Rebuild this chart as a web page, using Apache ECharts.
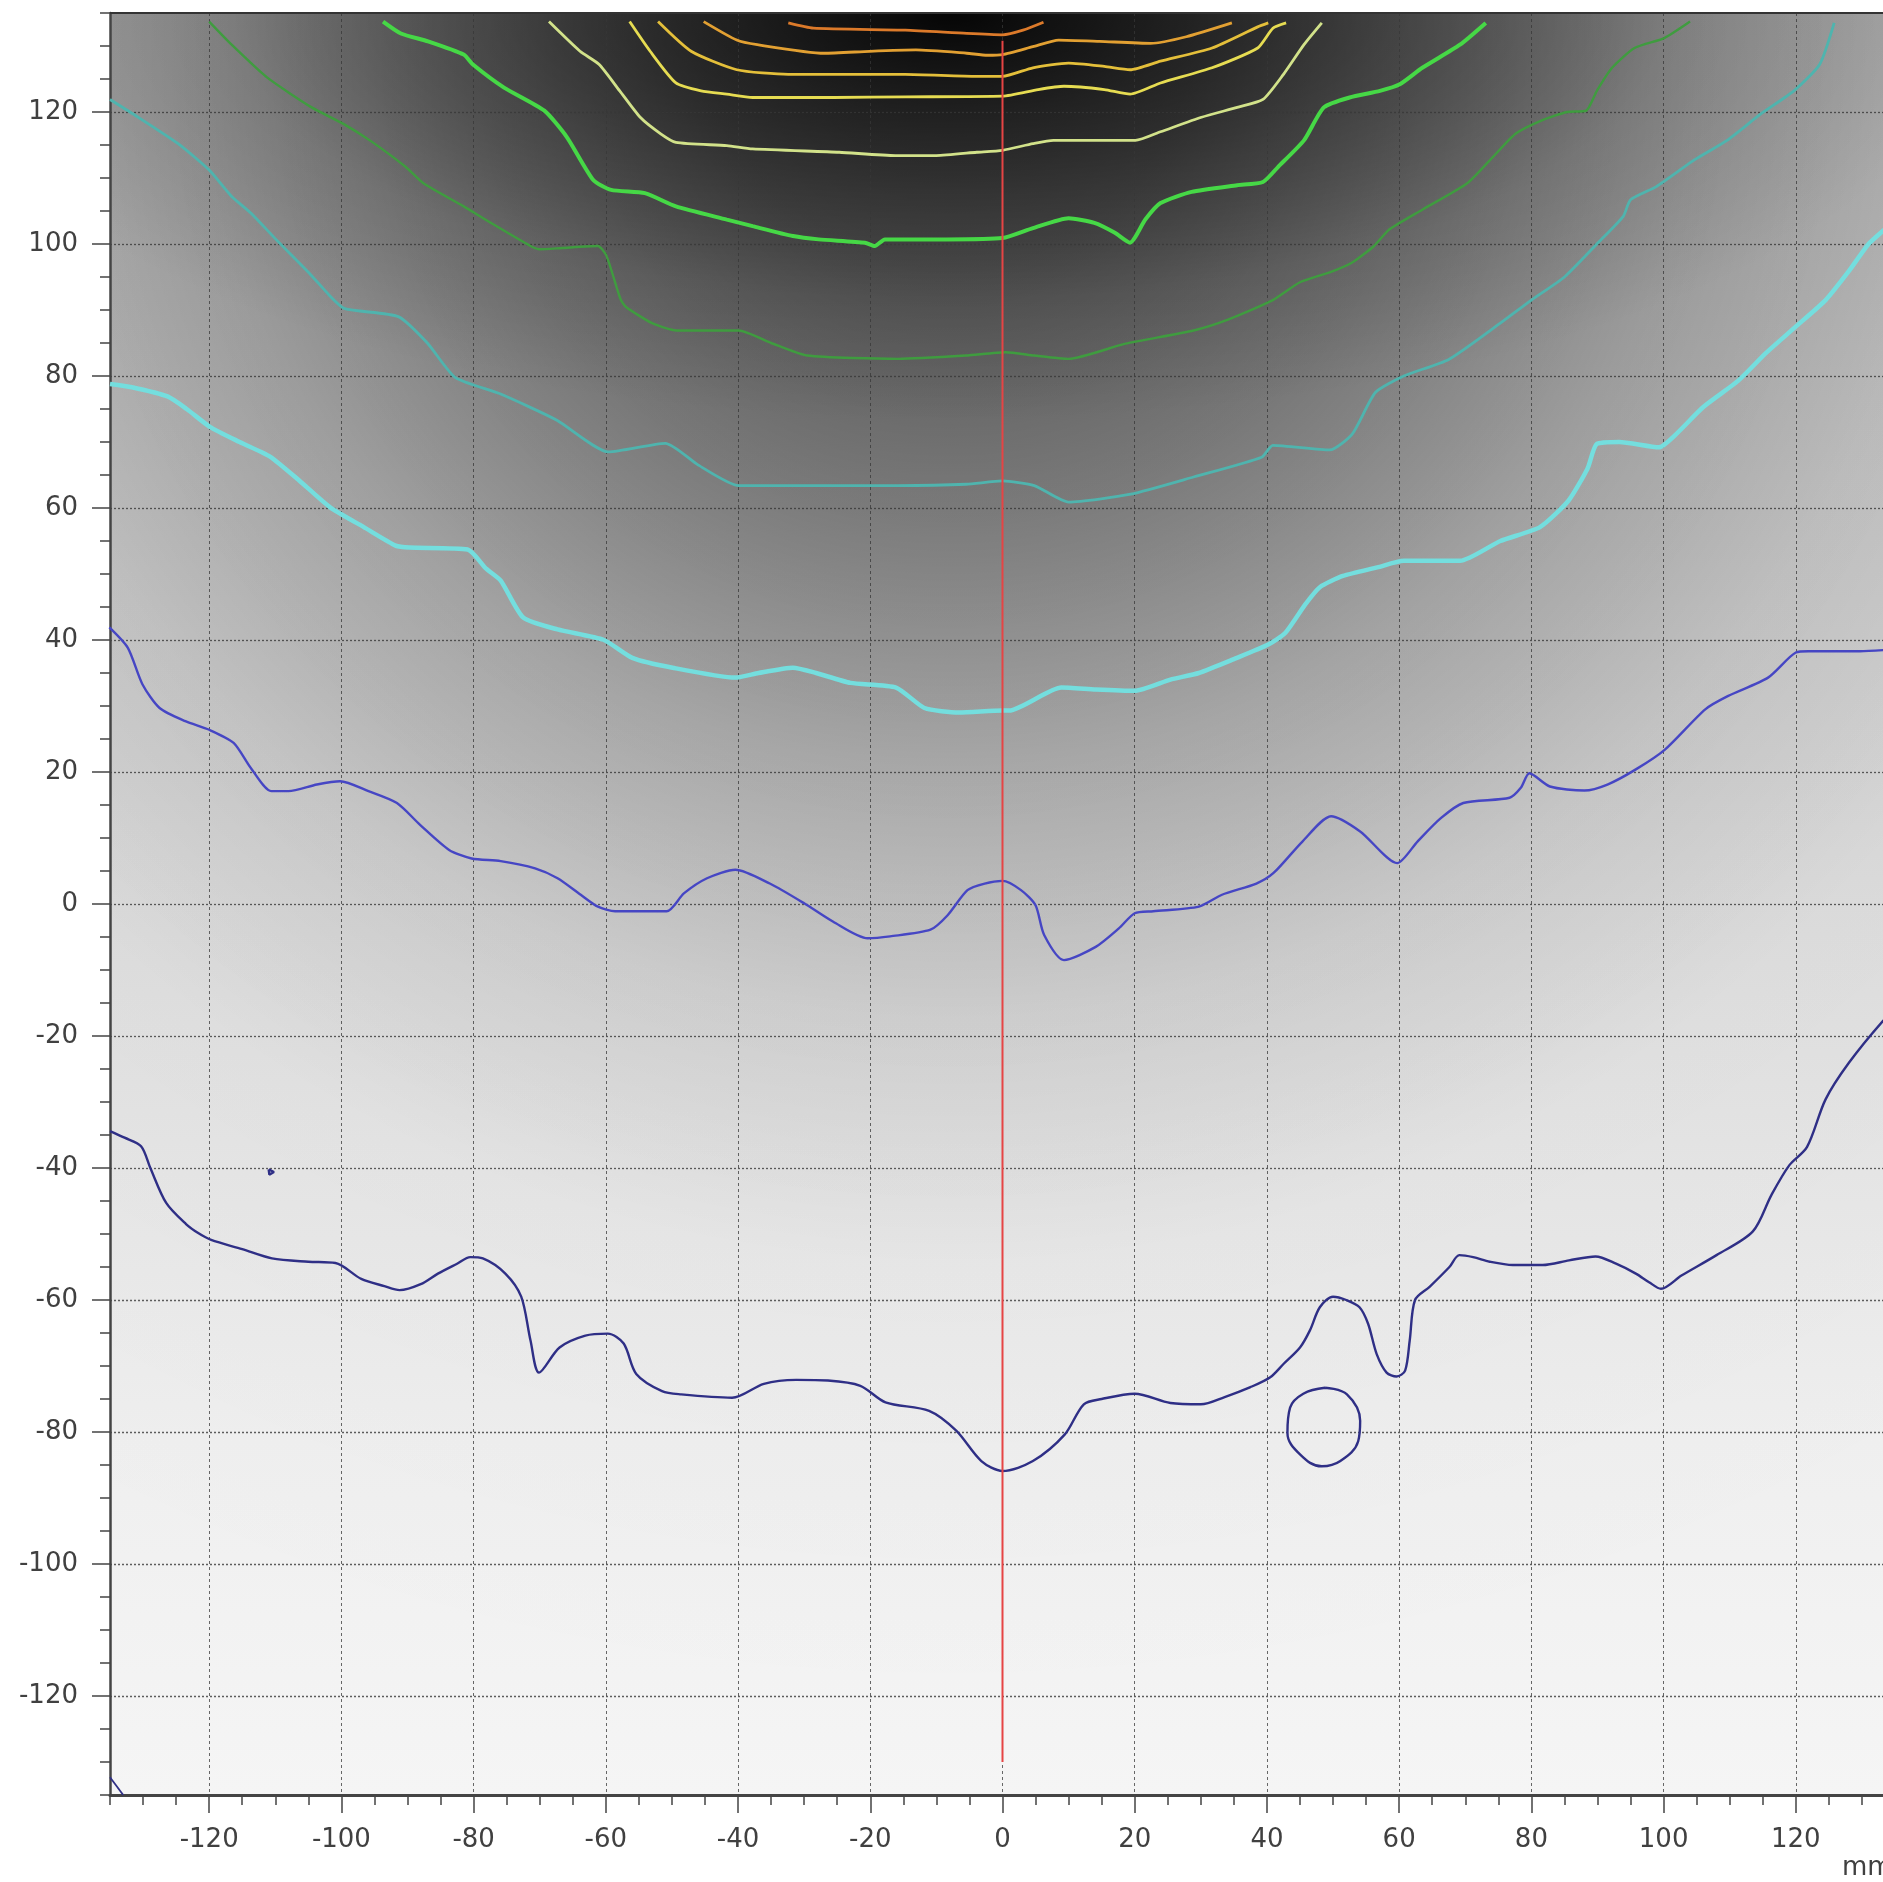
<!DOCTYPE html>
<html>
<head>
<meta charset="utf-8">
<script src="https://cdn.jsdelivr.net/npm/echarts@6/dist/echarts.min.js"></script>
<style>
html,body{margin:0;padding:0;background:#ffffff;}
#chart{width:1883px;height:1882px;}
</style>
</head>
<body>
<div id="chart"></div>
<script>
// ---- axis / tick data ----
const axisMin = -135;
const axisMax = 135;
const majorTicks = [-120, -100, -80, -60, -40, -20, 0, 20, 40, 60, 80, 100, 120];
const unitLabel = 'mm';

// ---- contour lines: [x mm, y mm] ----
const navyContour = [[-135,-34.4],[-132.8,-35.4],[-130.3,-36.7],[-128.9,-40],[-126.5,-45.3],[-123.5,-48.5],[-121.6,-49.9],[-119.7,-50.9],[-115,-52.3],[-110.5,-53.7],[-105,-54.2],[-100.9,-54.4],[-97,-56.8],[-93.5,-57.9],[-91.2,-58.5],[-88,-57.6],[-85.4,-56],[-82.5,-54.5],[-80.5,-53.5],[-78.6,-53.7],[-75.2,-56],[-72.8,-59.5],[-71.4,-66.1],[-70.1,-71],[-67,-67.2],[-63.1,-65.4],[-59.7,-65.1],[-57.3,-66.6],[-55.4,-71.2],[-51.5,-73.8],[-48.6,-74.3],[-40.9,-74.8],[-36.1,-72.7],[-31.2,-72.1],[-26.4,-72.2],[-21.5,-73],[-17.7,-75.5],[-11.1,-76.8],[-7,-79.8],[-3.2,-84.4],[0,-85.9],[4.6,-84.4],[9.4,-80.4],[12.3,-75.8],[15,-75],[20,-74.2],[25.4,-75.6],[30,-75.8],[33.6,-74.7],[37.5,-73.2],[40.5,-71.7],[42.5,-69.7],[45,-67.2],[46.5,-64.6],[48,-61.1],[50,-59.5],[52,-60],[54,-61.1],[55.3,-63.6],[56.6,-68.2],[58.1,-71],[59.6,-71.6],[60.9,-70.7],[61.6,-66.1],[62.4,-60],[64.6,-58],[67.6,-55],[69.1,-53.2],[71.2,-53.5],[73.7,-54.2],[77.2,-54.7],[81.7,-54.7],[85.7,-54],[89.7,-53.4],[92.8,-54.5],[95.8,-56],[97.8,-57.3],[99.6,-58.3],[102.7,-56.3],[108,-53.2],[113.5,-49.6],[116.3,-44.1],[119,-39.6],[121.7,-36.8],[124.5,-29.6],[128,-24.1],[133.2,-17.7],[136,-15]];
const navyRing = [[48.8,-73.3],[52.1,-74.3],[54.1,-78.3],[53.8,-81.4],[51.1,-84.4],[48.3,-85.2],[45,-83.4],[43.1,-80.1],[43.5,-76.3],[45.5,-74.2],[48.8,-73.3]];
const navyDot = [[-111,-40.2],[-110.2,-40.6],[-110.9,-41],[-111,-40.2]];
const navyCorner = [[-135,-132.3],[-133,-135]];
const blueContour = [[-135.1,41.9],[-132.3,38.8],[-130.1,33.3],[-127.5,29.7],[-123.6,27.7],[-120,26.4],[-116.3,24.4],[-113.7,20.6],[-110.6,17.1],[-108,17.1],[-103.7,18.1],[-100.2,18.6],[-95.9,17.1],[-91.6,15.3],[-88.1,12],[-83.7,8.2],[-80.3,6.9],[-75.9,6.5],[-70.7,5.4],[-67.3,3.9],[-63.8,1.4],[-61.2,-0.4],[-58.6,-1.1],[-50.8,-1.1],[-48.2,1.6],[-44.7,3.9],[-40.4,5.2],[-35.2,3.1],[-30,0.1],[-25.6,-2.7],[-20.4,-5.2],[-17,-4.9],[-10.9,-3.9],[-8.3,-1.7],[-5.3,2.1],[-2.7,3.1],[0,3.5],[2.8,2.1],[5,-0.2],[6.3,-4.7],[9.3,-8.5],[14.1,-6.5],[17.6,-3.7],[20,-1.4],[22.8,-1.1],[29.7,-0.4],[33.2,1.4],[38.4,3.1],[41,4.7],[45.4,9.5],[49.7,13.3],[54.1,11],[59.7,6.2],[62.8,9.5],[66.3,13],[69.7,15.3],[76.7,16.1],[78.4,17.6],[79.7,19.8],[82.8,17.8],[88,17.2],[91.5,18.1],[95.8,20.4],[100.2,23.4],[106.3,29.5],[109.7,31.5],[115.8,34.3],[120,38.1],[121.9,38.3],[129.7,38.3],[135,38.6]];
const cyanContour = [[-135,78.8],[-131.7,78.3],[-126.3,76.9],[-123.4,75],[-119.9,72.3],[-115.4,70],[-110.8,67.8],[-106.3,64.1],[-101.7,60.1],[-96.6,57.1],[-91.8,54.3],[-89.7,54],[-80.9,53.7],[-78.1,50.8],[-75.9,49],[-72.5,43.4],[-67.3,41.6],[-60.3,40],[-56,37.3],[-49.9,35.8],[-40.4,34.3],[-36.9,35],[-31.7,35.8],[-28.2,35],[-23,33.5],[-16.1,32.8],[-11.8,29.7],[-6.6,29],[0,29.3],[1,29.3],[8.9,32.8],[14.1,32.5],[20,32.3],[25.4,34],[29.7,35],[35,37.1],[40.2,39.3],[42.8,41.1],[45.8,45.4],[48,48],[51.5,49.7],[56.7,51],[60.7,52],[69.2,52],[75.3,55],[81.3,57.1],[85.6,61.1],[88.5,66],[89.9,69.7],[93.3,70],[99.3,69.2],[101.9,71.2],[106,75.3],[111.3,79.3],[115.5,83.5],[119.9,87.4],[124.5,91.5],[128.1,96],[131,100],[133.3,102.1],[136,104.5]];
const tealContour = [[-135,121.9],[-131.5,119.7],[-124.7,115.2],[-120,111.2],[-116.6,107.2],[-113.7,104.7],[-109.9,100.7],[-104.5,95.2],[-101.8,92.2],[-99.5,90.2],[-91.4,89],[-87,85],[-82.8,79.8],[-76,77.3],[-67.4,73.3],[-59.6,68.5],[-51,69.8],[-46,66.5],[-39.9,63.4],[-29.6,63.4],[-15.8,63.4],[-5.5,63.6],[0,64.1],[4.8,63.4],[10,60.9],[19.4,62.1],[28.9,64.7],[39.2,67.7],[40.9,69.5],[49.5,68.8],[52.9,71.2],[56.4,77.5],[60.7,80],[67.5,82.5],[75.3,88],[80,91.5],[85,95],[89.9,100],[93.9,104.2],[95,106.7],[98.9,108.7],[104.6,112.7],[109.6,115.7],[114.7,119.7],[119.7,123.2],[123.6,127.2],[125.8,133.5]];
const darkGreenContour = [[-120,133.7],[-116.6,130.2],[-111.2,125.2],[-104.5,120.7],[-99.7,118.2],[-95.7,115.7],[-90.3,111.7],[-87.6,109.2],[-81.5,105.7],[-77.4,103.2],[-71.4,99.7],[-70,99.2],[-66.6,99.4],[-61.2,99.7],[-59.9,98.2],[-57.8,91.7],[-57,90.5],[-53,88],[-49.3,86.9],[-39.9,86.9],[-35,85],[-29.6,83.1],[-15.8,82.6],[-5.5,83.1],[0.5,83.6],[4.8,83.1],[10,82.6],[18.6,84.9],[28.9,86.9],[34,88.5],[40.9,91.5],[45,94.2],[49.5,95.7],[52.9,97.2],[56.2,99.7],[58.5,102.2],[63.5,105.2],[70.3,109.2],[74.2,113.2],[77.6,116.7],[81.5,118.7],[85.4,120],[88.3,120.2],[89.9,123.2],[92.2,126.7],[95.6,129.7],[100.1,131.2],[104,133.7]];
const greenContour = [[-93.7,133.7],[-91,131.9],[-86.9,130.7],[-81.5,128.7],[-80.1,127.2],[-75.4,123.7],[-69.3,120.2],[-65.9,116.2],[-61.9,109.7],[-59.2,108.2],[-54.1,107.7],[-49.4,105.7],[-41.7,103.7],[-37.8,102.7],[-31.7,101.2],[-27.8,100.7],[-20.8,100.2],[-19.3,99.7],[-17.8,100.7],[-8.5,100.7],[0,100.9],[4.6,102.4],[10,103.9],[13.9,103.2],[17,101.7],[19.3,100.2],[21.6,103.7],[23.9,106.2],[28.6,107.9],[35.5,108.9],[39.4,109.4],[41.7,111.7],[45.6,115.7],[48.6,120.7],[52.5,122.2],[57.1,123.2],[60.1,124.2],[63.5,126.7],[69.2,130.2],[73.1,133.5]];
const paleContour = [[-68.6,133.7],[-63.9,129.2],[-61,127.2],[-57.9,123.2],[-54.8,119.2],[-51.7,116.7],[-49.4,115.4],[-41.7,114.9],[-37.8,114.4],[-24.7,113.9],[-16.2,113.4],[-10,113.4],[-3.9,113.9],[0,114.2],[4.6,115.2],[7.7,115.7],[20.1,115.7],[23.9,117],[30.1,119.2],[35.5,120.7],[39.4,121.9],[42.5,125.7],[45.6,130.2],[48.3,133.5]];
const yellowContour = [[-56.4,133.7],[-53.3,129.2],[-49.4,124.4],[-45.6,123.2],[-41.7,122.7],[-37.8,122.2],[-25.5,122.2],[-14.7,122.3],[0,122.4],[5.4,123.4],[9.3,123.9],[15.4,123.4],[19.3,122.7],[23.9,124.4],[31.7,126.7],[38.6,129.7],[40.9,132.7],[42.9,133.5]];
const goldContour = [[-52.1,133.7],[-47.1,129.2],[-40.2,126.4],[-32.4,125.7],[-14.7,125.7],[-3.9,125.4],[0,125.4],[4.6,126.7],[10,127.4],[15.4,126.9],[19.3,126.4],[23.9,127.7],[31.7,129.7],[38.6,132.9],[40.2,133.5]];
const orangeContour = [[-45.2,133.7],[-40.2,130.9],[-37.1,130.2],[-27,128.9],[-20.1,129.2],[-13.1,129.4],[-5.4,128.9],[-2.3,128.6],[0,128.7],[4.6,129.9],[8.5,130.9],[14.7,130.7],[22.4,130.4],[27.8,131.4],[34.7,133.5]];
const darkOrangeContour = [[-32.4,133.5],[-28.6,132.7],[-14.7,132.4],[-5.4,131.9],[0,131.7],[3.1,132.4],[6.2,133.6]];
const redLine = [[0,130.8],[0,-130]];

const chart = echarts.init(document.getElementById('chart'), null, {renderer: 'canvas'});
const G = {left: 110, top: 13, width: 1785, height: 1782};
const FONT = 'DejaVu Sans';
const axisColor = '#444444';
const labelColor = '#404040';

function contour(data, color, width, smooth) {
  return {type: 'line', data: data, showSymbol: false, symbol: 'none', smooth: smooth,
    lineStyle: {color: color, width: width}, z: 4, silent: true, animation: false, clip: true};
}

function valueAxis(extra) {
  return Object.assign({type: 'value', min: axisMin, max: axisMax, interval: 5, z: 2}, extra);
}

chart.setOption({
  animation: false,
  backgroundColor: '#ffffff',
  grid: {left: G.left, top: G.top, width: G.width, height: G.height, containLabel: false, outerBoundsMode: 'none'},
  xAxis: [
    valueAxis({position: 'bottom',
      axisLine: {show: true, onZero: false, lineStyle: {color: axisColor, width: 3}},
      axisTick: {show: true, length: 10, lineStyle: {color: axisColor, width: 1.5}},
      axisLabel: {show: true, customValues: majorTicks, margin: 32, fontSize: 26, color: labelColor, fontFamily: FONT},
      splitLine: {show: false}}),
    valueAxis({position: 'bottom',
      axisLine: {show: false, onZero: false},
      axisTick: {show: true, customValues: majorTicks, length: 18, lineStyle: {color: axisColor, width: 1.5}},
      axisLabel: {show: false},
      splitLine: {show: true, lineStyle: {color: 'rgba(55,55,55,0.75)', width: 1, type: [3, 3]}}})
  ],
  yAxis: [
    valueAxis({position: 'left',
      axisLine: {show: true, onZero: false, lineStyle: {color: axisColor, width: 2.5}},
      axisTick: {show: true, length: 10, lineStyle: {color: axisColor, width: 1.5}},
      axisLabel: {show: true, customValues: majorTicks, margin: 32, fontSize: 26, color: labelColor, fontFamily: FONT},
      splitLine: {show: false}}),
    valueAxis({position: 'left',
      axisLine: {show: false, onZero: false},
      axisTick: {show: true, customValues: majorTicks, length: 18, lineStyle: {color: axisColor, width: 1.5}},
      axisLabel: {show: false},
      splitLine: {show: true, lineStyle: {color: 'rgba(55,55,55,0.8)', width: 1.3, type: [2, 2]}}})
  ],
  series: [
    contour(navyContour, '#2f2f86', 2.4, 0.3),
    contour(navyRing, '#2f2f86', 2.4, 0.4),
    contour(navyDot, '#2f2f86', 2.4, false),
    contour(navyCorner, '#2f2f86', 1.8, false),
    contour(blueContour, '#4646c4', 2.4, 0.25),
    contour(cyanContour, '#74dede', 4.5, 0.2),
    contour(tealContour, '#4fb4ae', 2.8, 0.2),
    contour(darkGreenContour, '#3f9c3f', 2.4, 0.2),
    contour(greenContour, '#46d846', 4, 0.2),
    contour(paleContour, '#d2e28a', 2.8, 0.2),
    contour(yellowContour, '#e6dc52', 2.8, 0.2),
    contour(goldContour, '#e4bf3a', 2.8, 0.2),
    contour(orangeContour, '#e2a032', 2.8, 0.2),
    contour(darkOrangeContour, '#dc7a2a', 2.8, 0.2),
    Object.assign(contour(redLine, '#e64444', 2, false), {z: 6})
  ]
});

// ---- background shading (style only) ----
const p0 = chart.convertToPixel({gridIndex: 0}, [axisMin, axisMax]);
const p1 = chart.convertToPixel({gridIndex: 0}, [axisMax, axisMin]);
const R = {x: p0[0], y: p0[1], w: p1[0] - p0[0], h: p1[1] - p0[1]};
const sx = R.w / (axisMax - axisMin);
const sy = R.h / (axisMax - axisMin);
function shade(cxMM, cyMM, rxMM, ryMM, stops) {
  const c = chart.convertToPixel({gridIndex: 0}, [cxMM, cyMM]);
  const rx = rxMM * sx, ry = ryMM * sy, s = ry / rx;
  return {type: 'rect', x: c[0], y: c[1], scaleX: 1, scaleY: s, originX: 0, originY: 0, silent: true, z: 0,
    shape: {x: R.x - c[0], y: (R.y - c[1]) / s, width: R.w, height: R.h / s},
    style: {fill: new echarts.graphic.RadialGradient(0, 0, rx,
      stops.map(function (p) { return {offset: p[0], color: 'rgba(0,0,0,' + p[1] + ')'}; }), true)}};
}
function gray(v) { return 'rgb(' + v + ',' + v + ',' + v + ')'; }
const baseStops = [[0,190],[0.13,198],[0.26,207],[0.4,215],[0.5,222],[0.65,231],[0.8,239],[1,245]];
chart.setOption({
  graphic: [
    {type: 'rect', silent: true, z: 0, shape: {x: R.x, y: R.y, width: R.w, height: R.h},
      style: {fill: new echarts.graphic.LinearGradient(0, 0, 0, 1,
        baseStops.map(function (p) { return {offset: p[0], color: gray(p[1])}; }))}},
    shade(-8, 135, 280, 260, [[0,0.08],[0.5,0.03],[1,0]]),
    shade(-8, 135, 190, 190, [[0,0.62],[0.2,0.54],[0.4,0.38],[0.6,0.2],[0.8,0.07],[1,0]]),
    shade(-8, 135, 155, 62, [[0,0.92],[0.1,0.76],[0.25,0.56],[0.45,0.35],[0.7,0.12],[1,0]]),
    {type: 'line', silent: true, z: 3, shape: {x1: R.x, y1: R.y, x2: R.x + R.w, y2: R.y},
      style: {stroke: '#333333', lineWidth: 2}},
    {type: 'text', silent: true, z: 3, x: 1842, y: 1855,
      style: {text: unitLabel, fontSize: 26, fontFamily: FONT, fill: labelColor}}
  ]
});
</script>
</body>
</html>
